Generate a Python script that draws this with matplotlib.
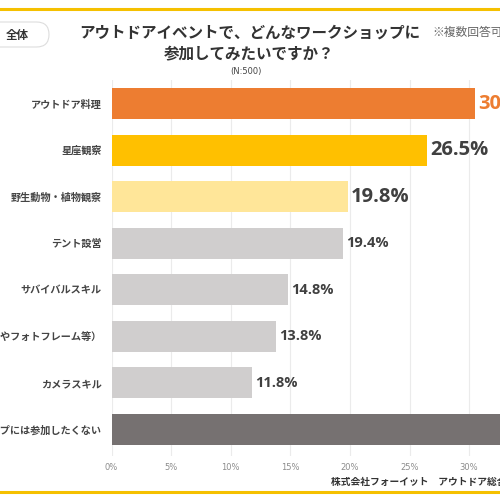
import matplotlib
matplotlib.use("Agg")
import matplotlib.pyplot as plt
from matplotlib.patches import FancyBboxPatch
from matplotlib.lines import Line2D

plt.rcParams['font.family'] = ['Noto Sans CJK JP', 'DejaVu Sans']

categories = ["アウトドア料理", "星座観察", "野生動物・植物観察", "テント設営",
              "サバイバルスキル", "写真（スマホ撮影やフォトフレーム等）", "カメラスキル",
              "ワークショップには参加したくない"]
values = [30.5, 26.5, 19.8, 19.4, 14.8, 13.8, 11.8, 35.0]
bar_colors = ["#ED7D31", "#FFC000", "#FFE699", "#D0CECE", "#D0CECE", "#D0CECE", "#D0CECE", "#767171"]
label_colors = ["#ED7D31", "#404040", "#404040", "#404040", "#404040", "#404040", "#404040", "#404040"]
label_sizes = [14.5, 14.5, 14.5, 10.5, 10.5, 10.5, 10.5, 10.5]
xticks = [0, 5, 10, 15, 20, 25, 30, 35]
xtick_labels = ["0%", "5%", "10%", "15%", "20%", "25%", "30%", "35%"]

fig = plt.figure(figsize=(5, 5), dpi=100)
fig.patch.set_facecolor("white")
ax = fig.add_axes([0.223, 0.088, 0.9536, 0.752])

ypos = list(range(len(categories)))
ax.barh(ypos, values, height=0.666, color=bar_colors, zorder=2)
ax.set_xlim(0, 40)
ax.set_ylim(7.569, -0.505)
ax.set_xticks(xticks)
ax.set_xticklabels(xtick_labels, fontsize=6, color="#8c8c8c", family=["DejaVu Sans"])
ax.set_yticks(ypos)
ax.set_yticklabels(categories, fontsize=7.3, color="#444444", fontweight="bold")
ax.tick_params(axis="both", length=0)
ax.tick_params(axis="y", pad=7)
ax.tick_params(axis="x", pad=5)
for s in ax.spines.values():
    s.set_visible(False)
ax.grid(axis="x", color="#ebebeb", linewidth=0.8, zorder=0)
ax.set_axisbelow(True)

for y, v, c, fs in zip(ypos, values, label_colors, label_sizes):
    ax.text(v + 0.25, y, f"{v:.1f}%", va="center", ha="left", fontsize=fs,
            color=c, fontweight="bold", family=["Open Sans", "DejaVu Sans"])

# decorative lines
fig.add_artist(Line2D([0, 1], [1 - 8.5 / 500, 1 - 8.5 / 500], color="#F5C000", lw=2.2))
fig.add_artist(Line2D([0, 1], [1 - 491.7 / 500, 1 - 491.7 / 500], color="#F5C000", lw=2.2))

# "全体" box
box = FancyBboxPatch((-20 / 500, 1 - 47 / 500), 69 / 500, 25 / 500,
                     boxstyle="round,pad=0,rounding_size=0.025",
                     transform=fig.transFigure, facecolor="white",
                     edgecolor="#dddddd", linewidth=0.8)
fig.add_artist(box)
fig.text(17.5 / 500, 1 - 35 / 500, "全体", ha="center", va="center",
         fontsize=8.3, fontweight="bold", color="#333333")

fig.text(250 / 500, 1 - 33 / 500, "アウトドアイベントで、どんなワークショップに",
         ha="center", va="center", fontsize=11.2, fontweight="bold", color="#333333")
fig.text(249 / 500, 1 - 53 / 500, "参加してみたいですか？",
         ha="center", va="center", fontsize=11.2, fontweight="bold", color="#333333")
fig.text(246 / 500, 1 - 71.5 / 500, "(N:500)", ha="center", va="center",
         fontsize=6, color="#444444", family=["DejaVu Sans"])
fig.text(432 / 500, 1 - 32 / 500, "※複数回答可", ha="left", va="center",
         fontsize=8.5, color="#666666")
fig.text(331 / 500, 1 - 481.7 / 500, "株式会社フォーイット　アウトドア総合情報サイト",
         ha="left", va="center", fontsize=7, fontweight="bold", color="#333333")

fig.savefig("out.png", dpi=100)
